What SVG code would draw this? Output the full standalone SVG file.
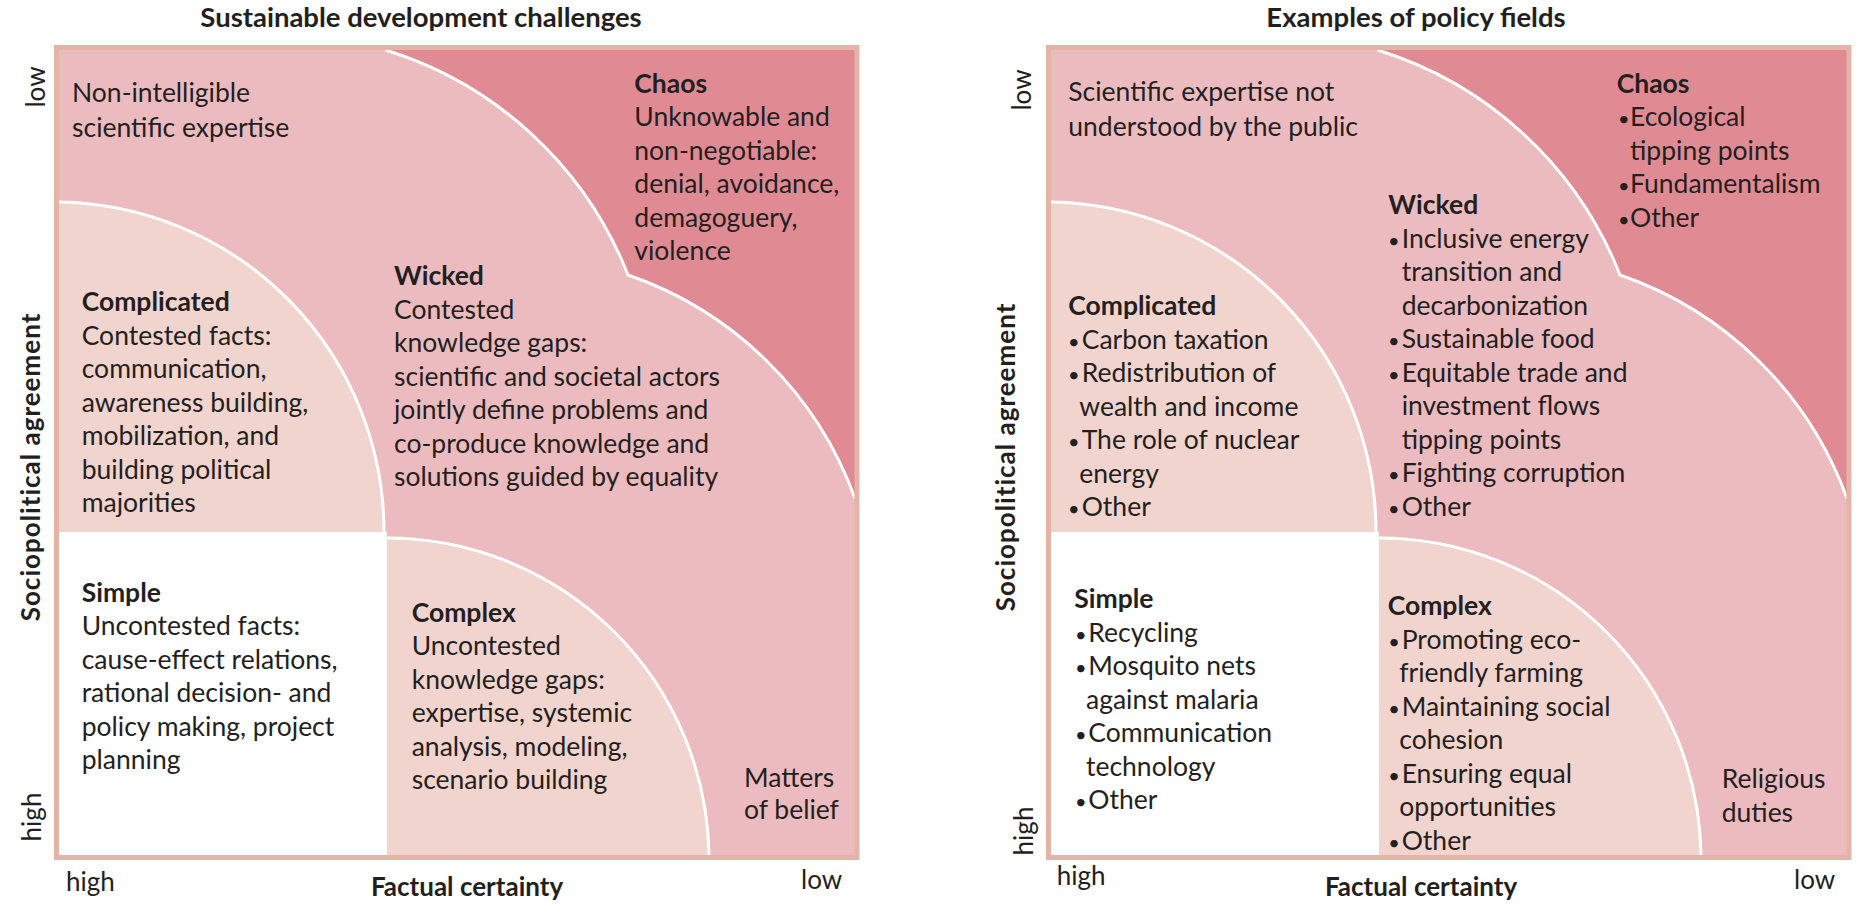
<svg xmlns="http://www.w3.org/2000/svg" xmlns:xlink="http://www.w3.org/1999/xlink" width="1864" height="907" viewBox="0 0 1864 907">
  <style>
    .t { font-family: Lato, "Open Sans", "Liberation Sans", sans-serif; font-size: 26.5px; fill: #231f20; }
    .b { font-weight: bold; }
    .title { font-family: Lato, "Open Sans", "Liberation Sans", sans-serif; font-size: 27.5px; font-weight: bold; fill: #231f20; text-anchor: middle; }
    .axis { font-family: Lato, "Open Sans", "Liberation Sans", sans-serif; font-size: 26px; fill: #231f20; }
    .axisb { font-family: Lato, "Open Sans", "Liberation Sans", sans-serif; font-size: 26px; font-weight: bold; fill: #231f20; }
    .vert { letter-spacing: 1px; }
    .mid { text-anchor: middle; }
    .dot { font-size: 20px; }
    .wicked { fill: #ecbbbf; }
    .chaos { fill: #e08b94; }
    .light { fill: #f1d4cd; }
    .simple { fill: #ffffff; }
    .edge { fill: none; stroke: #ffffff; stroke-width: 3; }
    .frame { fill: none; stroke: #e6b3a7; stroke-width: 5; }
  </style>
  <defs>
    <!-- quadrant shapes in panel coordinates -->
    <rect id="shape-wicked" x="59" y="50" width="796" height="805"/>
    <path id="shape-chaos" d="M385.5,50 A381,381 0 0 1 628,275 A369,369 0 0 1 855,498.5 V50 Z"/>
    <path id="shape-complicated" d="M59,532 V202 A330,330 0 0 1 384,532 Z"/>
    <rect id="shape-simple" x="59" y="532" width="328" height="323"/>
    <path id="shape-complex" d="M387,855 V538 A322,322 0 0 1 709,855 Z"/>
    <path id="shape-edges" d="M385.5,50 A381,381 0 0 1 628,275 A369,369 0 0 1 855,498.5 M59,202 A330,330 0 0 1 384,532 M387,538 A322,322 0 0 1 709,855"/>
    <rect id="shape-frame" x="56.5" y="47.5" width="800.5" height="810"/>
  </defs>

  <rect width="1864" height="907" fill="#ffffff"/>

  <!-- ===== Left panel: sustainable development challenges ===== -->
  <text class="title" x="421" y="27">Sustainable development challenges</text>

  <g id="left-wicked">
    <use xlink:href="#shape-wicked" href="#shape-wicked" class="wicked"/>
    <text class="t" x="72" y="101.7">Non-intelligible</text>
    <text class="t" x="72" y="136.7">scientific expertise</text>
    <text class="t b" x="394" y="285">Wicked</text>
    <text class="t" x="394" y="318.5">Contested</text>
    <text class="t" x="394" y="352">knowledge gaps:</text>
    <text class="t" x="394" y="385.5">scientific and societal actors</text>
    <text class="t" x="394" y="419">jointly define problems and</text>
    <text class="t" x="394" y="452.5">co-produce knowledge and</text>
    <text class="t" x="394" y="486">solutions guided by equality</text>
    <text class="t" x="744" y="786.7">Matters</text>
    <text class="t" x="744" y="819.3">of belief</text>
  </g>

  <g id="left-chaos">
    <use xlink:href="#shape-chaos" href="#shape-chaos" class="chaos"/>
    <text class="t b" x="634.3" y="92.7">Chaos</text>
    <text class="t" x="634.3" y="126.2">Unknowable and</text>
    <text class="t" x="634.3" y="159.7">non-negotiable:</text>
    <text class="t" x="634.3" y="193.2">denial, avoidance,</text>
    <text class="t" x="634.3" y="226.7">demagoguery,</text>
    <text class="t" x="634.3" y="260.2">violence</text>
  </g>

  <g id="left-complicated">
    <use xlink:href="#shape-complicated" href="#shape-complicated" class="light"/>
    <text class="t b" x="81.7" y="311">Complicated</text>
    <text class="t" x="81.7" y="344.5">Contested facts:</text>
    <text class="t" x="81.7" y="378">communication,</text>
    <text class="t" x="81.7" y="411.5">awareness building,</text>
    <text class="t" x="81.7" y="445">mobilization, and</text>
    <text class="t" x="81.7" y="478.5">building political</text>
    <text class="t" x="81.7" y="512">majorities</text>
  </g>

  <g id="left-simple">
    <use xlink:href="#shape-simple" href="#shape-simple" class="simple"/>
    <text class="t b" x="81.7" y="601.7">Simple</text>
    <text class="t" x="81.7" y="635.2">Uncontested facts:</text>
    <text class="t" x="81.7" y="668.7">cause-effect relations,</text>
    <text class="t" x="81.7" y="702.2">rational decision- and</text>
    <text class="t" x="81.7" y="735.7">policy making, project</text>
    <text class="t" x="81.7" y="769.2">planning</text>
  </g>

  <g id="left-complex">
    <use xlink:href="#shape-complex" href="#shape-complex" class="light"/>
    <text class="t b" x="411.7" y="621.7">Complex</text>
    <text class="t" x="411.7" y="655.2">Uncontested</text>
    <text class="t" x="411.7" y="688.7">knowledge gaps:</text>
    <text class="t" x="411.7" y="722.2">expertise, systemic</text>
    <text class="t" x="411.7" y="755.7">analysis, modeling,</text>
    <text class="t" x="411.7" y="789.2">scenario building</text>
  </g>

  <g id="left-boundaries">
    <use xlink:href="#shape-edges" href="#shape-edges" class="edge"/>
    <use xlink:href="#shape-frame" href="#shape-frame" class="frame"/>
  </g>

  <g id="left-axes">
    <text class="axis mid" transform="translate(45,87) rotate(-90)">low</text>
    <text class="axisb mid vert" transform="translate(40,467) rotate(-90)">Sociopolitical agreement</text>
    <text class="axis mid" transform="translate(41,817) rotate(-90)">high</text>
    <text class="axis" x="66" y="891">high</text>
    <text class="axisb mid" x="467" y="896">Factual certainty</text>
    <text class="axis" x="801" y="889">low</text>
  </g>

  <!-- ===== Right panel: examples of policy fields ===== -->
  <text class="title" x="1416" y="27">Examples of policy fields</text>

  <g id="right-wicked">
    <use xlink:href="#shape-wicked" href="#shape-wicked" class="wicked" transform="translate(992,0)"/>
    <text class="t" x="1068.3" y="101">Scientific expertise not</text>
    <text class="t" x="1068.3" y="136">understood by the public</text>
    <text class="t b" x="1388.3" y="214.3">Wicked</text>
    <text class="t"><tspan class="dot" x="1388" y="247.8">•</tspan><tspan x="1401.7" y="247.8">Inclusive energy</tspan></text>
    <text class="t" x="1401.7" y="281.3">transition and</text>
    <text class="t" x="1401.7" y="314.8">decarbonization</text>
    <text class="t"><tspan class="dot" x="1388" y="348.3">•</tspan><tspan x="1401.7" y="348.3">Sustainable food</tspan></text>
    <text class="t"><tspan class="dot" x="1388" y="381.8">•</tspan><tspan x="1401.7" y="381.8">Equitable trade and</tspan></text>
    <text class="t" x="1401.7" y="415.3">investment flows</text>
    <text class="t" x="1401.7" y="448.8">tipping points</text>
    <text class="t"><tspan class="dot" x="1388" y="482.3">•</tspan><tspan x="1401.7" y="482.3">Fighting corruption</tspan></text>
    <text class="t"><tspan class="dot" x="1388" y="515.8">•</tspan><tspan x="1401.7" y="515.8">Other</tspan></text>
    <text class="t" x="1721.7" y="788.3">Religious</text>
    <text class="t" x="1721.7" y="821.7">duties</text>
  </g>

  <g id="right-chaos">
    <use xlink:href="#shape-chaos" href="#shape-chaos" class="chaos" transform="translate(992,0)"/>
    <text class="t b" x="1616.7" y="92.7">Chaos</text>
    <text class="t"><tspan class="dot" x="1618" y="126.2">•</tspan><tspan x="1630" y="126.2">Ecological</tspan></text>
    <text class="t" x="1630" y="159.7">tipping points</text>
    <text class="t"><tspan class="dot" x="1618" y="193.2">•</tspan><tspan x="1630" y="193.2">Fundamentalism</tspan></text>
    <text class="t"><tspan class="dot" x="1618" y="226.7">•</tspan><tspan x="1630" y="226.7">Other</tspan></text>
  </g>

  <g id="right-complicated">
    <use xlink:href="#shape-complicated" href="#shape-complicated" class="light" transform="translate(992,0)"/>
    <text class="t b" x="1068.3" y="315">Complicated</text>
    <text class="t"><tspan class="dot" x="1068" y="348.5">•</tspan><tspan x="1081.7" y="348.5">Carbon taxation</tspan></text>
    <text class="t"><tspan class="dot" x="1068" y="382">•</tspan><tspan x="1081.7" y="382">Redistribution of</tspan></text>
    <text class="t" x="1079.3" y="415.5">wealth and income</text>
    <text class="t"><tspan class="dot" x="1068" y="449">•</tspan><tspan x="1081.7" y="449">The role of nuclear</tspan></text>
    <text class="t" x="1079.3" y="482.5">energy</text>
    <text class="t"><tspan class="dot" x="1068" y="516">•</tspan><tspan x="1081.7" y="516">Other</tspan></text>
  </g>

  <g id="right-simple">
    <use xlink:href="#shape-simple" href="#shape-simple" class="simple" transform="translate(992,0)"/>
    <text class="t b" x="1074.3" y="608.3">Simple</text>
    <text class="t"><tspan class="dot" x="1075" y="641.8">•</tspan><tspan x="1088.3" y="641.8">Recycling</tspan></text>
    <text class="t"><tspan class="dot" x="1075" y="675.3">•</tspan><tspan x="1088.3" y="675.3">Mosquito nets</tspan></text>
    <text class="t" x="1086" y="708.8">against malaria</text>
    <text class="t"><tspan class="dot" x="1075" y="742.3">•</tspan><tspan x="1088.3" y="742.3">Communication</tspan></text>
    <text class="t" x="1086" y="775.8">technology</text>
    <text class="t"><tspan class="dot" x="1075" y="809.3">•</tspan><tspan x="1088.3" y="809.3">Other</tspan></text>
  </g>

  <g id="right-complex">
    <use xlink:href="#shape-complex" href="#shape-complex" class="light" transform="translate(992,0)"/>
    <text class="t b" x="1387.7" y="615">Complex</text>
    <text class="t"><tspan class="dot" x="1388.3" y="648.5">•</tspan><tspan x="1401.7" y="648.5">Promoting eco-</tspan></text>
    <text class="t" x="1399.3" y="682">friendly farming</text>
    <text class="t"><tspan class="dot" x="1388.3" y="715.5">•</tspan><tspan x="1401.7" y="715.5">Maintaining social</tspan></text>
    <text class="t" x="1399.3" y="749">cohesion</text>
    <text class="t"><tspan class="dot" x="1388.3" y="782.5">•</tspan><tspan x="1401.7" y="782.5">Ensuring equal</tspan></text>
    <text class="t" x="1399.3" y="816">opportunities</text>
    <text class="t"><tspan class="dot" x="1388.3" y="849.5">•</tspan><tspan x="1401.7" y="849.5">Other</tspan></text>
  </g>

  <g id="right-boundaries" transform="translate(992,0)">
    <use xlink:href="#shape-edges" href="#shape-edges" class="edge"/>
    <use xlink:href="#shape-frame" href="#shape-frame" class="frame"/>
  </g>

  <g id="right-axes">
    <text class="axis mid" transform="translate(1031,90) rotate(-90)">low</text>
    <text class="axisb mid vert" transform="translate(1015,457) rotate(-90)">Sociopolitical agreement</text>
    <text class="axis mid" transform="translate(1033,831) rotate(-90)">high</text>
    <text class="axis" x="1056.7" y="885">high</text>
    <text class="axisb mid" x="1421" y="896">Factual certainty</text>
    <text class="axis" x="1794" y="889">low</text>
  </g>

  <!-- no connectors in this figure -->
  <g id="connectors"/>
</svg>
